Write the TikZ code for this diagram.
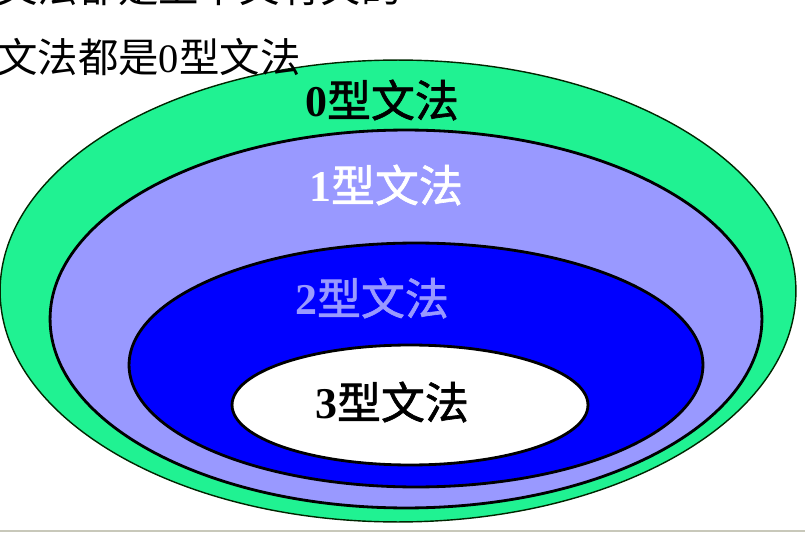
\documentclass[tikz,border=0pt]{standalone}
\usepackage{fontspec}
\setmainfont{Liberation Serif}
\newfontfamily\cjk{Noto Sans CJK SC}
\newfontfamily\cjklabel[FakeBold=1.5]{Noto Sans CJK SC}
\usepackage{xcolor}
\usetikzlibrary{shapes.geometric}
\definecolor{typezero}{RGB}{32,242,146}
\definecolor{typeone}{RGB}{153,153,255}
\definecolor{typetwo}{RGB}{0,0,255}
\definecolor{framegray}{RGB}{200,200,186}
\tikzset{
  grammar/.style={ellipse, draw=black, line width=1.6pt, inner sep=0pt},
  glabel/.style={font=\fontsize{25}{28}\selectfont\bfseries, inner sep=0pt},
  slidetext/.style={font=\fontsize{23}{27}\selectfont, anchor=west, inner sep=0pt},
}
\newcommand{\gname}[1]{#1{\cjklabel\mdseries 型文法}}
\begin{document}
\begin{tikzpicture}[x=0.02cm, y=-0.02cm]
  \clip (0,0) rectangle (805,537);
  \fill[white] (0,0) rectangle (805,537);

  % nested grammar classes
  \node (g0) [grammar, fill=typezero, draw=black!85!green, line width=0.8pt, minimum width=15.92cm, minimum height=9.24cm] at (398,291) {};
  \node (g1) [grammar, fill=typeone, minimum width=14.24cm, minimum height=7.56cm] at (406,319) {};
  \node (g2) [grammar, fill=typetwo, minimum width=11.48cm, minimum height=4.88cm] at (416,365) {};
  \node (g3) [grammar, fill=white, minimum width=7.12cm, minimum height=2.4cm] at (410,405) {};

  \node (l0) [glabel, text=black] at (382,100) {\gname{0}};
  \node (l1) [glabel, text=white] at (386,185) {\gname{1}};
  \node (l2) [glabel, text=typeone] at (372,298) {\gname{2}};
  \node (l3) [glabel, text=black] at (392,402) {\gname{3}};

  % slide text behind the figure
  \node (line1) [slidetext] at (-3,-13) {{\cjk 文法都是上下文有关的}};
  \node (line2) [slidetext] at (-3,57) {{\cjk 文法都是}0{\cjk 型文法}};

  \draw[framegray, line width=0.04cm] (0,531) -- (805,531);
\end{tikzpicture}
\end{document}
